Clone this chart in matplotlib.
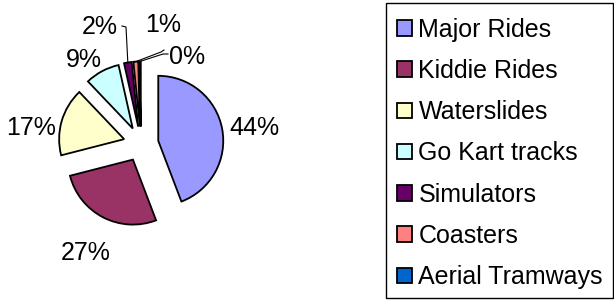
"""Camembert éclaté façon Excel : répartition des attractions par type."""

import matplotlib
matplotlib.use("Agg")
import matplotlib.pyplot as plt
from matplotlib.patches import Rectangle
import numpy as np

plt.rcParams["font.family"] = ["Liberation Sans", "DejaVu Sans"]

# données (en %)
categories = ["Major Rides", "Kiddie Rides", "Waterslides", "Go Kart tracks",
              "Simulators", "Coasters", "Aerial Tramways"]
shares = [44.2, 26.8, 16.9, 8.6, 1.9, 1.2, 0.4]
colors = ["#9999FF", "#993366", "#FFFFCC", "#CCFFFF", "#660066", "#FF8080", "#0066CC"]

W, H, R = 614, 301, 65.0          # taille en px, rayon du camembert en px
CX, CY = 141 / R, (H - 144) / R   # centre, en unités de rayon
EXPL = 0.27
FS = 18

fig = plt.figure(figsize=(W / 100, H / 100), dpi=100)
ax = fig.add_axes([0, 0, 1, 1])

wedges, _ = ax.pie(shares, colors=colors, startangle=90, counterclock=False,
                   explode=[EXPL] * len(shares), center=(CX, CY), radius=1,
                   wedgeprops=dict(edgecolor="k", linewidth=1.3),
                   frame=True)
ax.set_xlim(0, W / R)
ax.set_ylim(0, H / R)
ax.axis("off")

pct = [f"{round(s):.0f}%" for s in shares]

# grandes parts : libellé dans l'axe de la part, plus un petit recalage (px)
# parce qu'Excel cale la boîte du texte et non son centre
lab_dist = [1.46, 1.58, 1.43, 1.36]
nudge = [(3, -4), (0, -2), (-4, -14), (-7, -9)]
for w, txt, d, (nx, ny) in zip(wedges[:4], pct[:4], lab_dist, nudge):
    th = np.deg2rad((w.theta1 + w.theta2) / 2)
    x0, y0 = w.center
    ax.text(x0 + d * np.cos(th) + nx / R, y0 + d * np.sin(th) + ny / R, txt,
            ha="center", va="center", fontsize=FS)

# petites parts : libellé décalé (px, relatif au centre) + trait de rappel
small_txt = [(-41, 117), (22, 119), (46, 87)]
leaders = [[(-15, 117), (-19, 118)],
           [(20, 92), (23, 94)],
           [(22, 90), (27, 90)]]
for w, txt, (dx, dy), pts in zip(wedges[4:], pct[4:], small_txt, leaders):
    ax.text(CX + dx / R, CY + dy / R, txt, ha="center", va="center", fontsize=FS)
    th = np.deg2rad((w.theta1 + w.theta2) / 2)
    x0, y0 = w.center
    xs = [x0 + np.cos(th)] + [CX + p[0] / R for p in pts]
    ys = [y0 + np.sin(th)] + [CY + p[1] / R for p in pts]
    ax.plot(xs, ys, color="k", lw=0.8)

# cadre de légende tracé à part : le cadre auto de matplotlib déborde en bas
ax.add_patch(Rectangle((386 / W, 3 / H), 227 / W, 295 / H, transform=ax.transAxes,
                       fill=False, edgecolor="k", lw=1.0, zorder=5))
leg = ax.legend(wedges, categories, loc="upper left",
                bbox_to_anchor=(388 / W, 1 - 9 / H),
                fontsize=FS, frameon=False, borderpad=0.35, labelspacing=0.69,
                handlelength=0.62, handleheight=0.58, handletextpad=0.25,
                borderaxespad=0)

fig.savefig("out.png", dpi=100)
